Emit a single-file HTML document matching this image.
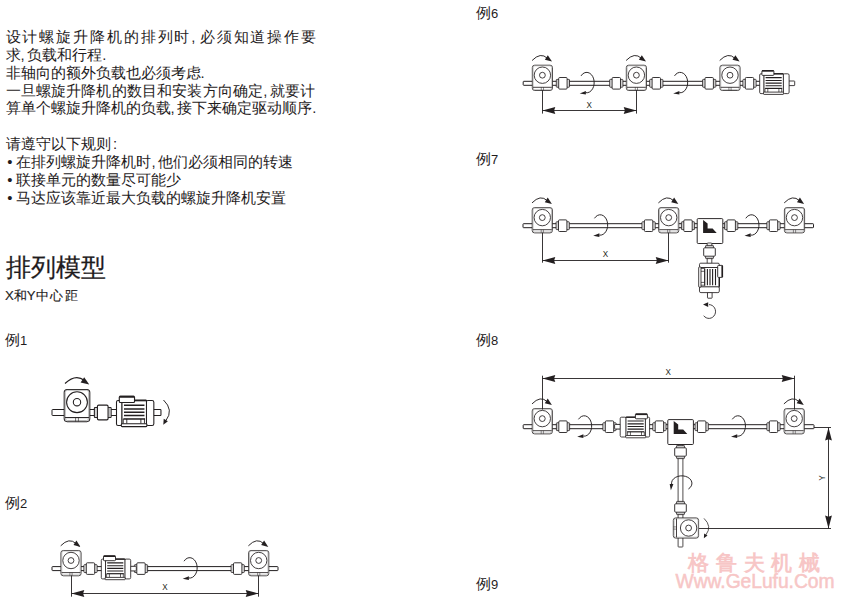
<!DOCTYPE html>
<html><head><meta charset="utf-8">
<style>
html,body{margin:0;padding:0;background:#fff;}
body{width:843px;height:600px;position:relative;overflow:hidden;font-family:"Liberation Sans",sans-serif;color:#1f1c1d;}
.t{position:absolute;white-space:nowrap;font-size:14.8px;line-height:17.85px;}
.ex{position:absolute;white-space:nowrap;font-size:14.5px;line-height:17px;}
.c{margin-right:2.5px}
.wm1{position:absolute;left:688px;top:549.5px;font-family:"Liberation Serif",serif;font-weight:bold;font-size:21px;line-height:26px;letter-spacing:6.8px;color:#f7c6c6;white-space:nowrap;}
.wm2{position:absolute;left:675.5px;top:571px;font-size:19.3px;line-height:22px;color:#f7c6c6;-webkit-text-stroke:0.5px #f7c6c6;letter-spacing:-0.05px;white-space:nowrap;}
</style></head><body>
<svg width="843" height="600" viewBox="0 0 843 600" style="position:absolute;left:0;top:0" font-family="Liberation Sans, sans-serif"><defs>
<g id="jk">
 <rect x="-10.1" y="-18.1" width="20.2" height="25.3" rx="2.4" fill="#fff" stroke="#231f20" stroke-width="0.8"/>
 <rect x="-9.2" y="-17.5" width="18.4" height="23.8" rx="1.7" fill="none" stroke="#9a9a9a" stroke-width="0.55"/>
 <path d="M-9.4,4 H9.4" stroke="#231f20" stroke-width="0.85"/>
 <path d="M-1.1,4 V7.1 M1.1,4 V7.1" stroke="#231f20" stroke-width="0.5"/>
 <circle cx="0" cy="-8.1" r="8.2" fill="#fff" stroke="#231f20" stroke-width="0.85"/>
 <circle cx="0" cy="-8.1" r="2.9" fill="none" stroke="#231f20" stroke-width="0.85"/>
</g>
<g id="cp">
 <rect x="-6.6" y="-3.9" width="13.2" height="7.8" rx="0.6" fill="#fff" stroke="#231f20" stroke-width="0.85"/>
 <path d="M-5.4,-3.7 V3.7 M5.4,-3.7 V3.7" stroke="#8a8a8a" stroke-width="0.5"/>
 <rect x="-4.2" y="-5.8" width="8.4" height="11.6" rx="1" fill="#fff" stroke="#231f20" stroke-width="0.9"/>
</g>
<g id="mt">
 <rect x="28.9" y="-2.3" width="6.1" height="4.6" rx="0.5" fill="#fff" stroke="#231f20" stroke-width="0.85"/>
 <rect x="0" y="-9.5" width="4.4" height="19.8" rx="1.2" fill="#fff" stroke="#231f20" stroke-width="0.85"/>
 <rect x="23.4" y="-9.5" width="6" height="19.8" rx="1.4" fill="#fff" stroke="#231f20" stroke-width="0.85"/>
 <rect x="4.3" y="-9.5" width="19.3" height="19.3" fill="#fff" stroke="#231f20" stroke-width="0.85"/>
 <path d="M4.3,-9.5 H23.4" stroke="#231f20" stroke-width="1.4"/>
 <rect x="2.2" y="-12.8" width="12" height="4.9" rx="0.8" fill="#fff" stroke="#231f20" stroke-width="0.9"/>
 <path d="M2.4,-12.4 H14" stroke="#231f20" stroke-width="1.6"/>
 <path d="M5.9,-5.7 H22 M5.9,-2.8 H22 M5.9,-0.2 H22 M5.9,2.4 H22" stroke="#231f20" stroke-width="1.1"/>
 <path d="M5.4,5.1 H22.5" stroke="#231f20" stroke-width="1.2"/>
 <path d="M5.3,5.1 V8.8 M8.1,5.1 V8.8 M19.2,5.1 V8.8 M22,5.1 V8.8" fill="none" stroke="#231f20" stroke-width="0.7"/>
 <rect x="3.8" y="8.8" width="20.1" height="2.3" rx="0.6" fill="#fff" stroke="#231f20" stroke-width="0.85"/>
</g>
<g id="gb">
 <rect x="-12.8" y="-7.1" width="25.6" height="24.9" rx="1" fill="#fff" stroke="#231f20" stroke-width="0.95"/>
 <path d="M-6.9,-5.6 L-2.4,-2.3 V2.9 H2.6 L6.7,7.3 H-6.9 Z" fill="#231f20"/>
</g>
<g id="ra">
 <path d="M-10.3,-22.8 Q-1.8,-31.6 5,-25" fill="none" stroke="#231f20" stroke-width="0.95"/>
 <path d="M9.6,-21.7 L2.5,-23.5 L5.4,-28.1 Z" fill="#231f20"/>
</g>
<g id="sa">
 <path d="M-5,-7.4 A7.5,10.2 0 1 1 -0.2,9.4" fill="none" stroke="#231f20" stroke-width="0.95"/>
 <path d="M-6.3,10.1 L-0.1,7.6 L-0.1,11.3 Z" fill="#231f20"/>
</g>
<g id="sd">
 <path d="M0,-12 Q10.5,-2 2.4,8.6" fill="none" stroke="#231f20" stroke-width="0.95"/>
 <path d="M-0.2,12.8 L0.2,6.8 L4.4,9.3 Z" fill="#231f20"/>
</g>
</defs><rect x="52" y="409.5" width="66" height="6" rx="0.6" fill="#fff" stroke="#231f20" stroke-width="1"/>
<use href="#jk" transform="translate(77,412.5) scale(1.27)"/>
<path d="M65,383.5 Q75.5,373.5 84.5,380.5" fill="none" stroke="#231f20" stroke-width="1.1"/><path d="M89.2,384.5 L80.6,382.6 L84.2,377.3 Z" fill="#231f20"/>
<use href="#cp" transform="translate(102.75,412.5) scale(1.27)"/>
<use href="#mt" transform="translate(116.5,412.5) scale(1.27)"/>
<use href="#sd" transform="translate(163.5,412) scale(1)"/>
<rect x="52" y="566.6" width="226" height="4" rx="0.6" fill="#fff" stroke="#231f20" stroke-width="1"/>
<use href="#cp" transform="translate(90.5,568.6)"/>
<use href="#cp" transform="translate(141,568.6)"/>
<use href="#cp" transform="translate(237.7,568.6)"/>
<use href="#mt" transform="translate(101.3,568.6)"/>
<use href="#jk" transform="translate(71,568.6)"/>
<use href="#ra" transform="translate(71,568.6)"/>
<use href="#jk" transform="translate(258.7,568.6)"/>
<use href="#ra" transform="translate(258.7,568.6)"/>
<use href="#sa" transform="translate(189,568.6)"/>
<path d="M71.5,575.5 L71.5,596.7" stroke="#231f20" stroke-width="0.9" fill="none"/>
<path d="M258.5,575.5 L258.5,596.7" stroke="#231f20" stroke-width="0.9" fill="none"/>
<path d="M71.5,593.5 L258.5,593.5" stroke="#231f20" stroke-width="0.9" fill="none"/>
<path d="M71.5,593.5 L84.3,590.1 L83.1,593.5 L84.3,596.9 Z" fill="#231f20"/>
<path d="M258.5,593.5 L245.7,590.1 L246.9,593.5 L245.7,596.9 Z" fill="#231f20"/>
<text x="0" y="3.36" font-size="9.9" text-anchor="middle" fill="#231f20" transform="translate(164.9,586.5) scale(0.82,1)">X</text>
<rect x="523.2" y="81.3" width="238.8" height="4" rx="0.6" fill="#fff" stroke="#231f20" stroke-width="1"/>
<use href="#cp" transform="translate(562.9,83.3)"/>
<use href="#cp" transform="translate(616.3,83.3)"/>
<use href="#cp" transform="translate(656.3,83.3)"/>
<use href="#cp" transform="translate(709.2,83.3)"/>
<use href="#cp" transform="translate(749.5,83.3)"/>
<use href="#jk" transform="translate(542.4,83.3)"/>
<use href="#ra" transform="translate(542.4,83.3)"/>
<use href="#jk" transform="translate(636.4,83.3)"/>
<use href="#ra" transform="translate(636.4,83.3)"/>
<use href="#jk" transform="translate(730,83.3)"/>
<use href="#ra" transform="translate(730,83.3)"/>
<use href="#mt" transform="translate(759.7,83.3)"/>
<use href="#sa" transform="translate(586,83.3)"/>
<use href="#sa" transform="translate(679.5,83.3)"/>
<path d="M542.5,90.3 L542.5,113.6" stroke="#231f20" stroke-width="0.9" fill="none"/>
<path d="M636.5,90.3 L636.5,113.6" stroke="#231f20" stroke-width="0.9" fill="none"/>
<path d="M542.5,110.5 L636.5,110.5" stroke="#231f20" stroke-width="0.9" fill="none"/>
<path d="M542.5,110.5 L555.3,107.1 L554.1,110.5 L555.3,113.9 Z" fill="#231f20"/>
<path d="M636.5,110.5 L623.7,107.1 L624.9,110.5 L623.7,113.9 Z" fill="#231f20"/>
<text x="0" y="3.36" font-size="9.9" text-anchor="middle" fill="#231f20" transform="translate(589.1,104.5) scale(0.82,1)">X</text>
<rect x="523" y="223.7" width="290.5" height="4" rx="0.6" fill="#fff" stroke="#231f20" stroke-width="1"/>
<use href="#cp" transform="translate(562.7,225.7)"/>
<use href="#cp" transform="translate(648.6,225.7)"/>
<use href="#cp" transform="translate(688,225.7)"/>
<use href="#cp" transform="translate(731.2,225.7)"/>
<use href="#cp" transform="translate(773.5,225.7)"/>
<use href="#jk" transform="translate(542.3,225.7)"/>
<use href="#ra" transform="translate(542.3,225.7)"/>
<use href="#jk" transform="translate(668.7,225.7)"/>
<use href="#ra" transform="translate(668.7,225.7)"/>
<use href="#jk" transform="translate(794.5,225.7)"/>
<use href="#ra" transform="translate(794.5,225.7)"/>
<use href="#gb" transform="translate(710,225.7)"/>
<rect x="707.2" y="243" width="4.6" height="21" rx="0.6" fill="#fff" stroke="#231f20" stroke-width="0.8"/>
<use href="#cp" transform="translate(709.5,252) rotate(90)"/>
<use href="#mt" transform="translate(709.8,263.2) rotate(90)"/>
<use href="#sa" transform="translate(599.5,225.7)"/>
<use href="#sa" transform="translate(750.8,225.7)"/>
<path d="M703.7,315.7 A6.6,6.9 0 1 0 709,304.6" fill="none" stroke="#231f20" stroke-width="0.85"/>
<path d="M703,304.6 L708.2,302.3 L708.2,306.9 Z" fill="#231f20"/>
<path d="M542.5,232.7 L542.5,262.7" stroke="#231f20" stroke-width="0.9" fill="none"/>
<path d="M668.5,232.7 L668.5,262.7" stroke="#231f20" stroke-width="0.9" fill="none"/>
<path d="M542.5,260.5 L668.5,260.5" stroke="#231f20" stroke-width="0.9" fill="none"/>
<path d="M542.5,260.5 L555.3,257.1 L554.1,260.5 L555.3,263.9 Z" fill="#231f20"/>
<path d="M668.5,260.5 L655.7,257.1 L656.9,260.5 L655.7,263.9 Z" fill="#231f20"/>
<text x="0" y="3.36" font-size="9.9" text-anchor="middle" fill="#231f20" transform="translate(605.5,253.5) scale(0.82,1)">X</text>
<rect x="523.2" y="424.7" width="290.8" height="4" rx="0.6" fill="#fff" stroke="#231f20" stroke-width="1"/>
<rect x="678.1" y="440" width="4.8" height="107" rx="0.6" fill="#fff" stroke="#231f20" stroke-width="0.8"/>
<use href="#cp" transform="translate(563,426.7)"/>
<use href="#cp" transform="translate(609.5,426.7)"/>
<use href="#cp" transform="translate(659.4,426.7)"/>
<use href="#cp" transform="translate(701.7,426.7)"/>
<use href="#cp" transform="translate(773.5,426.7)"/>
<use href="#mt" transform="translate(649.6,426.7) scale(-1,1)"/>
<use href="#gb" transform="translate(680.6,426.7)"/>
<use href="#cp" transform="translate(680.5,452) rotate(90)"/>
<use href="#cp" transform="translate(680.5,508) rotate(90)"/>
<use href="#jk" transform="translate(680.5,528) rotate(90)"/>
<use href="#jk" transform="translate(542.3,426.7)"/>
<use href="#ra" transform="translate(542.3,426.7)"/>
<use href="#jk" transform="translate(794.2,426.7)"/>
<use href="#ra" transform="translate(794.2,426.7)"/>
<use href="#sa" transform="translate(583.5,426.7)"/>
<use href="#sa" transform="translate(737.3,426.7)"/>
<use href="#sa" transform="translate(681,484) matrix(0,-1,-1,0,0,0)"/>
<use href="#sd" transform="translate(704,528) scale(0.8)"/>
<path d="M542.5,375.7 L542.5,409.5" stroke="#231f20" stroke-width="0.9" fill="none"/>
<path d="M794.5,375.7 L794.5,409.5" stroke="#231f20" stroke-width="0.9" fill="none"/>
<path d="M542.5,378.5 L794.5,378.5" stroke="#231f20" stroke-width="0.9" fill="none"/>
<path d="M542.5,378.5 L555.3,375.1 L554.1,378.5 L555.3,381.9 Z" fill="#231f20"/>
<path d="M794.5,378.5 L781.7,375.1 L782.9,378.5 L781.7,381.9 Z" fill="#231f20"/>
<text x="0" y="3.36" font-size="9.9" text-anchor="middle" fill="#231f20" transform="translate(668.3,371.6) scale(0.82,1)">X</text>
<path d="M814,427.5 L831,427.5" stroke="#231f20" stroke-width="0.9" fill="none"/>
<path d="M699,528.5 L831,528.5" stroke="#231f20" stroke-width="0.9" fill="none"/>
<path d="M828.5,427.5 L828.5,528.5" stroke="#231f20" stroke-width="0.9" fill="none"/>
<path d="M828.5,427.5 L825.1,440.5 L828.5,439.3 L831.9,440.5 Z" fill="#231f20"/>
<path d="M828.5,528.5 L825.1,515.5 L828.5,516.7 L831.9,515.5 Z" fill="#231f20"/>
<text x="0" y="3.53" font-size="9.8" text-anchor="middle" fill="#231f20" transform="translate(821,478) rotate(-90) scale(0.85,1)">Y</text></svg>
<div class="t" style="left:5.6px;top:29px;">
<div style="letter-spacing:1.88px">设计螺旋升降机的排列时<span class="c">,</span>必须知道操作要</div>
<div>求<span class="c">,</span>负载和行程.</div>
<div>非轴向的额外负载也必须考虑.</div>
<div style="letter-spacing:0.15px">一旦螺旋升降机的数目和安装方向确定<span class="c">,</span>就要计</div>
<div>算单个螺旋升降机的负载<span class="c">,</span>接下来确定驱动顺序.</div>
<div>&nbsp;</div>
<div>请遵守以下规则<span style="margin-left:2.5px">:</span></div>
<div style="margin-left:1.6px">• 在排列螺旋升降机时<span class="c">,</span>他们必须相同的转速</div>
<div style="margin-left:1.6px">• 联接单元的数量尽可能少</div>
<div style="margin-left:1.6px">• 马达应该靠近最大负载的螺旋升降机安置</div>
</div>
<div class="t" style="left:6.3px;top:251.8px;font-size:25px;line-height:30px;-webkit-text-stroke:0.25px #1f1c1d;">排列模型</div>
<div class="t" style="left:5px;top:288.3px;font-size:13.2px;line-height:16px;-webkit-text-stroke:0.15px #1f1c1d;">X和Y<span style="letter-spacing:1.6px">中心</span>距</div>
<div class="ex" style="left:5px;top:332px;">例<span style="font-size:13px">1</span></div>
<div class="ex" style="left:5px;top:495px;">例<span style="font-size:13px">2</span></div>
<div class="ex" style="left:476px;top:5px;">例<span style="font-size:13px">6</span></div>
<div class="ex" style="left:476px;top:151px;">例<span style="font-size:13px">7</span></div>
<div class="ex" style="left:476px;top:332px;">例<span style="font-size:13px">8</span></div>
<div class="ex" style="left:476px;top:576px;">例<span style="font-size:13px">9</span></div>
<div class="wm1">格鲁夫机械</div>
<div class="wm2">Www.GeLufu.Com</div>
</body></html>
